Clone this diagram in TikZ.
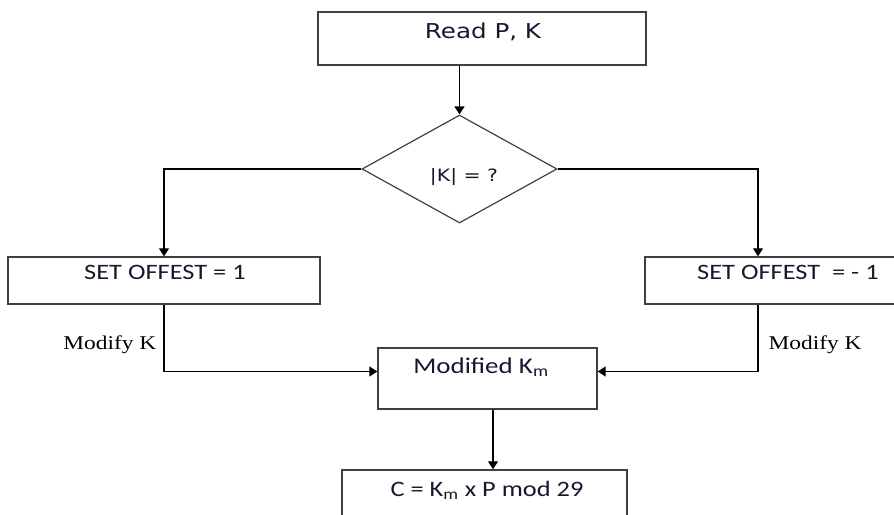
\documentclass[tikz,border=0pt]{standalone}
\usepackage{graphicx}
\usepackage{fontspec}
\newfontfamily\vfont{DejaVu Sans}
\newfontfamily\cfont{Carlito}
\newfontfamily\tfont{Liberation Serif}
\definecolor{fcline}{RGB}{64,64,64}
\definecolor{fctext}{RGB}{20,25,45}
\newcommand{\wide}[1]{\scalebox{1.2}[1]{#1}}
\usetikzlibrary{arrows.meta,positioning,shapes.geometric}

\begin{document}
\begin{tikzpicture}[x=1pt, y=-1pt,
        procbox/.style={rectangle, draw=fcline, line width=1.4pt, inner sep=0pt},
        decbox/.style={diamond, draw=fcline, line width=1.2pt, inner sep=0pt, aspect=1.8},
        boxtext/.style={inner sep=0pt, text=fctext},
        arr/.style={-{Triangle[length=8pt, width=10pt]}, line width=1.3pt, black}
      ]
        \useasboundingbox (0,0) rectangle (894,514);
        \clip (0,0) rectangle (894,514);

        % boxes
        \node[procbox, minimum width=328, minimum height=53] (read) at (482, 38.5) {};
        \node[decbox, minimum width=195, minimum height=108] (dia) at (459.5, 169) {};
        \node[procbox, minimum width=312, minimum height=47] (setp) at (164, 280.5) {};
        \node[procbox, minimum width=286, minimum height=47] (setn) at (788, 280.5) {};
        \node[procbox, minimum width=219, minimum height=61] (mod) at (487.5, 378.5) {};
        \node[procbox, minimum width=285, minimum height=60] (res) at (484.5, 500) {};

        % texts
        \node[boxtext, font=\vfont\fontsize{20.5}{24}\selectfont] (readtxt) at (483, 32) {\wide{Read P, K}};
        \node[boxtext, font=\vfont\fontsize{17}{20}\selectfont] (diatxt) at (464, 177) {\wide{|K| = ?}};
        \node[boxtext, font=\cfont\fontsize{22}{24}\selectfont] (setptxt) at (165, 272) {\wide{SET OFFEST = 1}};
        \node[boxtext, font=\cfont\fontsize{22}{24}\selectfont] (setntxt) at (788, 272) {\wide{SET OFFEST \ = - 1}};
        \node[boxtext, font=\cfont\fontsize{22.5}{24}\selectfont] (modtxt) at (481, 367) {\wide{Modified K\textsubscript{m}}};
        \node[boxtext, font=\cfont\fontsize{22}{24}\selectfont] (restxt) at (487, 490) {\wide{C = K\textsubscript{m} x P mod 29}};

        % flow
        \draw[arr] (dia.north |- read.south) -- (dia.north);
        \draw[arr] (dia.west) -| (setp.north);
        \draw[arr] (dia.east) -| ([xshift=-30pt]setn.north);
        \draw[arr] (setp.south) |- ([yshift=7pt]mod.west)
          node[pos=0.3, left=7pt, boxtext, text=black, font=\tfont\fontsize{19.5}{22}\selectfont] (modl) {\wide{Modify K}};
        \draw[arr] ([xshift=-30pt]setn.south) |- ([yshift=7pt]mod.east)
          node[pos=0.3, right=10pt, boxtext, text=black, font=\tfont\fontsize{19.5}{22}\selectfont] (modr) {\wide{Modify K}};
        \draw[arr] ([xshift=5.5pt]mod.south) -- ([xshift=5.5pt]mod.south |- res.north);
      \end{tikzpicture}
\end{document}
